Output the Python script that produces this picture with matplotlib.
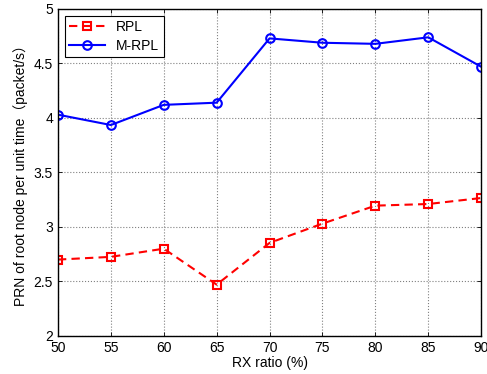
import numpy as np
import matplotlib.pyplot as plt

# RX ratio vs PRN of root node
rx = [50, 55, 60, 65, 70, 75, 80, 85, 90]
rpl = [2.70, 2.725, 2.80, 2.47, 2.853, 3.03, 3.195, 3.21, 3.265]
mrpl = [4.03, 3.935, 4.12, 4.14, 4.73, 4.69, 4.68, 4.74, 4.47]
xticks = [50, 55, 60, 65, 70, 75, 80, 85, 90]
yticks = [2, 2.5, 3, 3.5, 4, 4.5, 5]

plt.rcParams['font.family'] = ['Liberation Sans', 'Noto Sans CJK SC', 'DejaVu Sans']
plt.rcParams['font.size'] = 10

fig = plt.figure(figsize=(4.87, 3.74), dpi=100)
ax = fig.add_axes([0.119, 0.102, 0.869, 0.874])

ax.plot(rx, rpl, 'r--s', lw=1.5, ms=6.2, mfc='none', mew=1.5, dashes=(4, 2.5), label='RPL')
ax.plot(rx, mrpl, 'b-o', lw=1.5, ms=6.2, mfc='none', mew=1.5, label='M-RPL')

ax.set_xlim(50, 90)
ax.set_ylim(2, 5)
ax.set_xticks(xticks)
ax.set_yticks(yticks)
ax.set_yticklabels(['2', '2.5', '3', '3.5', '4', '4.5', '5'])
ax.grid(True, color='0.5', ls=':', lw=0.8)
ax.tick_params(direction='in', top=True, right=True, length=3, width=0.6)
for s in ax.spines.values():
    s.set_linewidth(1.0)
ax.set_xlabel('RX ratio (%)', labelpad=1)
ax.set_ylabel('PRN of root node per unit time（packet/s）', labelpad=4)

leg = ax.legend(loc='upper left', fancybox=False, edgecolor='k', framealpha=1,
                borderaxespad=0.5, handlelength=2.6, borderpad=0.3, labelspacing=0.35)
leg.get_frame().set_linewidth(0.8)

fig.savefig('out.png', dpi=100)
